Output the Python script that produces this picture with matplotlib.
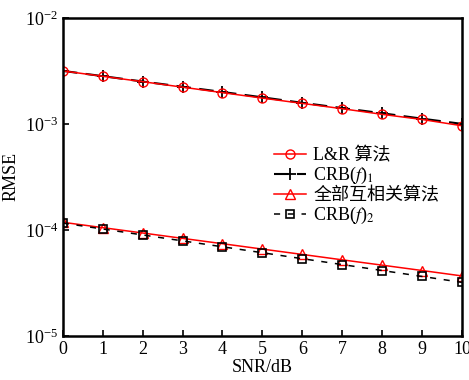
import numpy as np
import matplotlib
matplotlib.use('Agg')
import matplotlib.pyplot as plt

plt.rcParams['font.family'] = ['Liberation Serif', 'Noto Sans CJK SC']
plt.rcParams['mathtext.fontset'] = 'stix'

snr = [0, 1, 2, 3, 4, 5, 6, 7, 8, 9, 10]
rmse_lr = [3.16e-3, 2.81e-3, 2.50e-3, 2.22e-3, 1.97e-3, 1.75e-3, 1.56e-3, 1.39e-3, 1.23e-3, 1.10e-3, 0.96e-3]
crb_1 = [3.16e-3, 2.82e-3, 2.51e-3, 2.24e-3, 2.00e-3, 1.78e-3, 1.58e-3, 1.41e-3, 1.26e-3, 1.12e-3, 1.00e-3]
rmse_all = [1.18e-4, 1.05e-4, 0.935e-4, 0.832e-4, 0.741e-4, 0.659e-4, 0.587e-4, 0.522e-4, 0.465e-4, 0.414e-4, 0.368e-4]
crb_2 = [1.16e-4, 1.02e-4, 0.896e-4, 0.788e-4, 0.693e-4, 0.609e-4, 0.535e-4, 0.471e-4, 0.414e-4, 0.364e-4, 0.32e-4]

labels = ['L&R 算法', r'CRB($f$)$_1$', '全部互相关算法', r'CRB($f$)$_2$']

fig = plt.figure(figsize=(4.69, 3.80), dpi=100)
ax = fig.add_axes([0.134, 0.116, 0.851, 0.837])

ax.semilogy(snr, crb_1, 'k--', marker='+', ms=8, mew=1.3, lw=1.5, dashes=(7, 4), label=labels[1])
ax.semilogy(snr, rmse_lr, 'r-', marker='o', ms=6.5, mfc='none', mew=1.0, lw=1.1, label=labels[0])
ax.semilogy(snr, rmse_all, 'r-', marker='^', ms=6.5, mfc='none', mew=1.0, lw=1.1, label=labels[2])
ax.semilogy(snr, crb_2, 'k--', marker='s', ms=6, mfc='none', mew=1.2, lw=1.1, dashes=(4, 5), label=labels[3])

ax.set_xlim(0, 10)
ax.set_ylim(1e-5, 1e-2)
ax.set_xticks(range(0, 11))
ax.set_yticks([1e-5, 1e-4, 1e-3, 1e-2])
ax.yaxis.set_minor_locator(matplotlib.ticker.NullLocator())
ax.tick_params(direction='in', length=4, width=1.2, labelsize=13, top=False, right=False)
for s in ax.spines.values():
    s.set_linewidth(1.8)

ax.set_xlabel('SNR/dB', fontsize=13, labelpad=1)
ax.set_ylabel('RMSE', fontsize=13, labelpad=4)

h, l = ax.get_legend_handles_labels()
order = [1, 0, 2, 3]
ax.legend([h[i] for i in order], [l[i] for i in order], loc='upper left',
          bbox_to_anchor=(0.51, 0.617), frameon=False, fontsize=13,
          handlelength=1.8, handletextpad=0.4, labelspacing=0.05, borderaxespad=0)

fig.savefig('out.png', dpi=100)
